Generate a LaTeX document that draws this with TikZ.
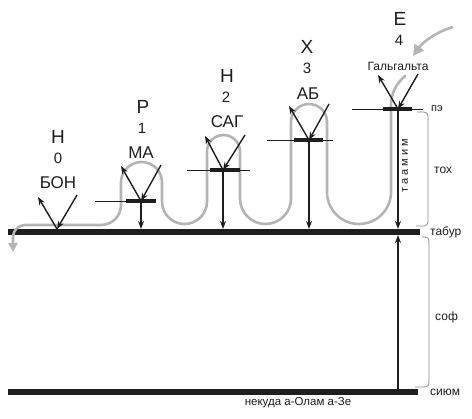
\documentclass[tikz,border=0pt]{standalone}
\usepackage{fontspec}
\setmainfont{Liberation Sans}
\usetikzlibrary{arrows.meta}
\definecolor{lightray}{HTML}{B4B4B4}
\definecolor{bracegray}{HTML}{8C8C8C}
\definecolor{ink}{HTML}{1E1E1E}
\begin{document}
\begin{tikzpicture}[x=1pt,y=-1pt,
  ray/.style={draw=ink,line width=1.4pt,-{Stealth[length=8pt,width=6pt]}},
  barline/.style={draw=ink,line width=5.5pt},
  screenbar/.style={draw=ink,line width=4pt},
  thinline/.style={draw=ink,line width=0.7pt},
  light/.style={draw=lightray,line width=2.6pt,line cap=round},
  bracket/.style={draw=bracegray,line width=0.8pt,rounded corners=4pt},
  letter/.style={font=\fontsize{19}{21}\selectfont,text=ink,inner sep=0pt},
  digit/.style={font=\fontsize{15}{17}\selectfont,text=ink,inner sep=0pt},
  pname/.style={font=\fontsize{17}{19}\selectfont,text=ink,inner sep=0pt},
  small/.style={font=\fontsize{12}{14}\selectfont,text=ink,inner sep=0pt},
]
\useasboundingbox (0,0) rectangle (472,419);

% main bars
\coordinate (tabL) at (8,232); \coordinate (tabR) at (420,232);
\coordinate (siyL) at (8,392); \coordinate (siyR) at (418,392);
\draw[barline] (tabL) -- (tabR);
\draw[barline] (siyL) -- (siyR);

% light path
\draw[light,-{Triangle[length=9pt,width=9pt]}]
  (405,76) .. controls (396,84) and (391,93) .. (391,106)
  -- (391,192) arc (0:180:32)
  -- (327,122) arc (0:-180:18)
  -- (291,198.5) arc (0:180:25.5)
  -- (240,151.5) arc (0:-180:16.5)
  -- (207,201.5) arc (0:180:22.5)
  -- (162,182.5) arc (0:-180:20.5)
  -- (121,205) arc (0:90:20)
  -- (25,225) arc (-90:-180:12)
  -- (13,252);
\coordinate (inS) at (453,27); \coordinate (inE) at (413,56);
\draw[draw=lightray,line width=2.6pt,-{Triangle[length=11pt,width=11pt]}]
  (inS) .. controls (436,32) and (423,42) .. (inE);

% screens
\coordinate (maC) at (141,201); \coordinate (sagC) at (223,170);
\coordinate (abC) at (309,140); \coordinate (galC) at (398,109);
\coordinate (bonC) at (57,229);

\draw[thinline] (95,201) -- (126,201);
\draw[screenbar] (126,201) -- (156,201);
\draw[thinline] (187,170) -- (250,170);
\draw[screenbar] (210,170) -- (240,170);
\draw[thinline] (267,140) -- (333,140);
\draw[screenbar] (294,140) -- (323,140);
\draw[thinline] (352,109) -- (423,109);
\draw[screenbar] (383,109) -- (412,109);

% reflection arrows
\coordinate (bonI) at (77,195); \coordinate (bonO) at (38,197);
\coordinate (maI) at (161,165); \coordinate (maO) at (121,166);
\coordinate (sagI) at (245,135); \coordinate (sagO) at (205,136);
\coordinate (abI) at (329,104); \coordinate (abO) at (289,106);
\coordinate (galI) at (418,74); \coordinate (galO) at (378,75);
\foreach \s in {bon,ma,sag,ab,gal}{
  \draw[ray] (\s I) -- (\s C);
  \draw[ray] (\s C) -- (\s O);
}

% vertical arrows to tabur
\coordinate (maB) at (141,229); \coordinate (sagB) at (223,229);
\coordinate (abB) at (309,229); \coordinate (galB) at (398,229);
\draw[ray] (maC) -- (maB);
\draw[ray] (sagC) -- (sagB);
\draw[ray] (abC) -- (abB);
\draw[ray] (galC) -- (galB);
\coordinate (upS) at (398,389); \coordinate (upE) at (398,235);
\draw[ray] (upS) -- (upE);

% brackets
\draw[bracket] (417,112) -- (428,112) -- (428,226) -- (416,226);
\draw[bracket] (422,237) -- (429,237) -- (429,387) -- (415,387);

% labels above screens
\node[letter] (l0) at (58,137) {Н};
\node[digit]  (d0) at (58,158) {0};
\node[pname]  (n0) at (58,183) {БОН};
\node[letter] (l1) at (143,107) {Р};
\node[digit]  (d1) at (142,128) {1};
\node[pname]  (n1) at (141,153) {МА};
\node[letter] (l2) at (227,76) {Н};
\node[digit]  (d2) at (226,97) {2};
\node[pname]  (n2) at (227,122) {САГ};
\node[letter] (l3) at (307,47) {Х};
\node[digit]  (d3) at (307,68) {3};
\node[pname]  (n3) at (308,94) {АБ};
\node[letter] (l4) at (400,19) {Е};
\node[digit]  (d4) at (399,40) {4};
\node[small]  (n4) at (398,66) {Гальгальта};

% right labels
\node[small,anchor=west,font=\fontsize{11}{13}\selectfont] (pe) at (431,109) {пэ};
\node[small,anchor=west] (tox) at (434,170) {тох};
\node[small,anchor=west] (tabur) at (430,232) {табур};
\node[small,anchor=west] (sof) at (435,317) {соф};
\node[small,anchor=west] (siyum) at (430,392) {сиюм};
\node[small,rotate=90,font=\fontsize{11}{13}\selectfont] (taamim) at (405,166)
  {т\hspace{3pt}а\hspace{3pt}а\hspace{3pt}м\hspace{3pt}и\hspace{3pt}м};
\node[small,font=\fontsize{11.5}{13}\selectfont] (nekuda) at (298,403) {некуда а-Олам а-Зе};
\end{tikzpicture}
\end{document}
